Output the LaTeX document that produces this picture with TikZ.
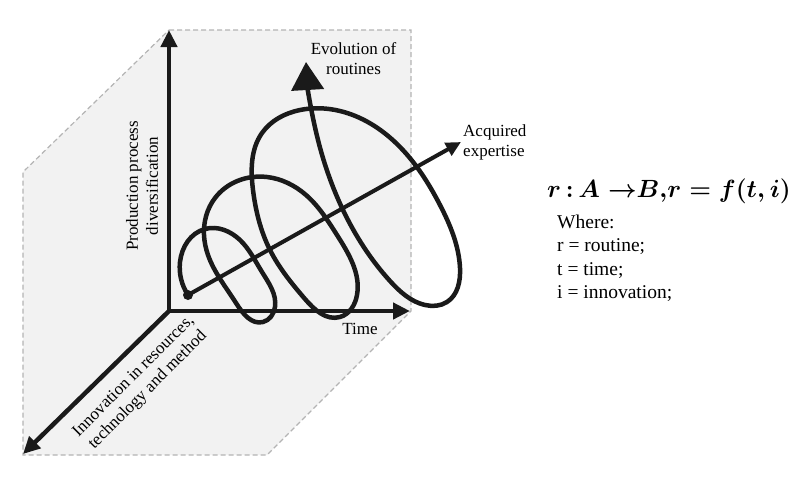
\documentclass[tikz,border=0pt]{standalone}
\usepackage{fontspec}
\setmainfont{Liberation Serif}
\usetikzlibrary{arrows.meta,hobby}
\definecolor{panel}{HTML}{F2F2F2}
\definecolor{dashc}{HTML}{B4B4B4}
\definecolor{ink}{HTML}{1A1A1A}
\newcommand{\routineeq}{{\fontsize{23.5}{28}\selectfont\boldmath$r\mskip 3mu{:}\mskip 3mu A\mskip 5mu{\rightarrow}B{,}r = f(t, i)$}}
\begin{document}
\begin{tikzpicture}[x=1pt,y=-1pt,
  axisline/.style={line width=4.5pt, draw=ink, -{Triangle[length=17pt,width=16pt]}},
  spiral/.style={line width=4.5pt, draw=ink, line cap=round, line join=round},
  lab/.style={font=\fontsize{17}{20}\selectfont, align=center, inner sep=0pt},
  note/.style={font=\fontsize{19.5}{23.2}\selectfont, align=left, inner sep=0pt, anchor=north west}
]
\useasboundingbox (0,0) rectangle (800,479);
% panel
\coordinate (p1) at (169,30);
\coordinate (p2) at (411,30);
\coordinate (p3) at (411,311);
\coordinate (p4) at (267,455);
\coordinate (p5) at (23,455);
\coordinate (p6) at (23,172);
\filldraw[fill=panel, draw=dashc, line width=1.2pt, dash pattern=on 5pt off 3pt]
  (p1) -- (p2) -- (p3) -- (p4) -- (p5) -- (p6) -- cycle;
% axes
\coordinate (O) at (169,311);
\coordinate (ytip) at (169,30);
\coordinate (xtip) at (410,311);
\coordinate (ztip) at (23,454);
\draw[axisline] (O) -- (ytip);
\draw[axisline] (O) -- (xtip);
\draw[axisline] (O) -- (ztip);
% spiral
\coordinate (blob) at (188,295);
\coordinate (evo) at (306,62);
\draw[spiral, use Hobby shortcut, -{Triangle[length=28pt,width=32pt]}]
  (blob) .. (180,262) .. (205,229) .. (240,240) .. (262,272) .. (275,307)
  .. (263,322) .. (236,303) .. (208,255) .. (204,235) .. (215,198) .. (267,177)
  .. (306,195) .. (337,235) .. (357,295) .. (340,317) .. (305,299) .. (270,250)
  .. (253,190) .. (262,133) .. (300,110) .. (340,111) .. (397,144) .. (440,205)
  .. (460,268) .. (447,302) .. (425,305) .. (390,281) .. (343,210) .. (318,140)
  .. (evo);
% expertise axis
\coordinate (exp) at (461,142);
\draw[line width=4pt, draw=ink, -{Triangle[length=15pt,width=14pt]}] (blob) -- (exp);
\fill[ink] (blob) circle (5pt);
% labels
\node[lab] (evolab) at (353.5,59) {Evolution of\\routines};
\node[lab, align=left, anchor=west] (explab) at (463,142) {Acquired\\expertise};
\node[lab] (timelab) at (360,329) {Time};
\node[lab, rotate=90] (ylab) at (142,186) {Production process\\diversification};
\node[lab, rotate=45] (zlab) at (141,383.5) {Innovation in resources,\\technology and method};
\node[inner sep=0pt, anchor=west] (eqn) at (547,191) {\routineeq};
\node[note] (where) at (557,215) {Where:\\r = routine;\\t = time;\\i = innovation;};
\end{tikzpicture}
\end{document}
